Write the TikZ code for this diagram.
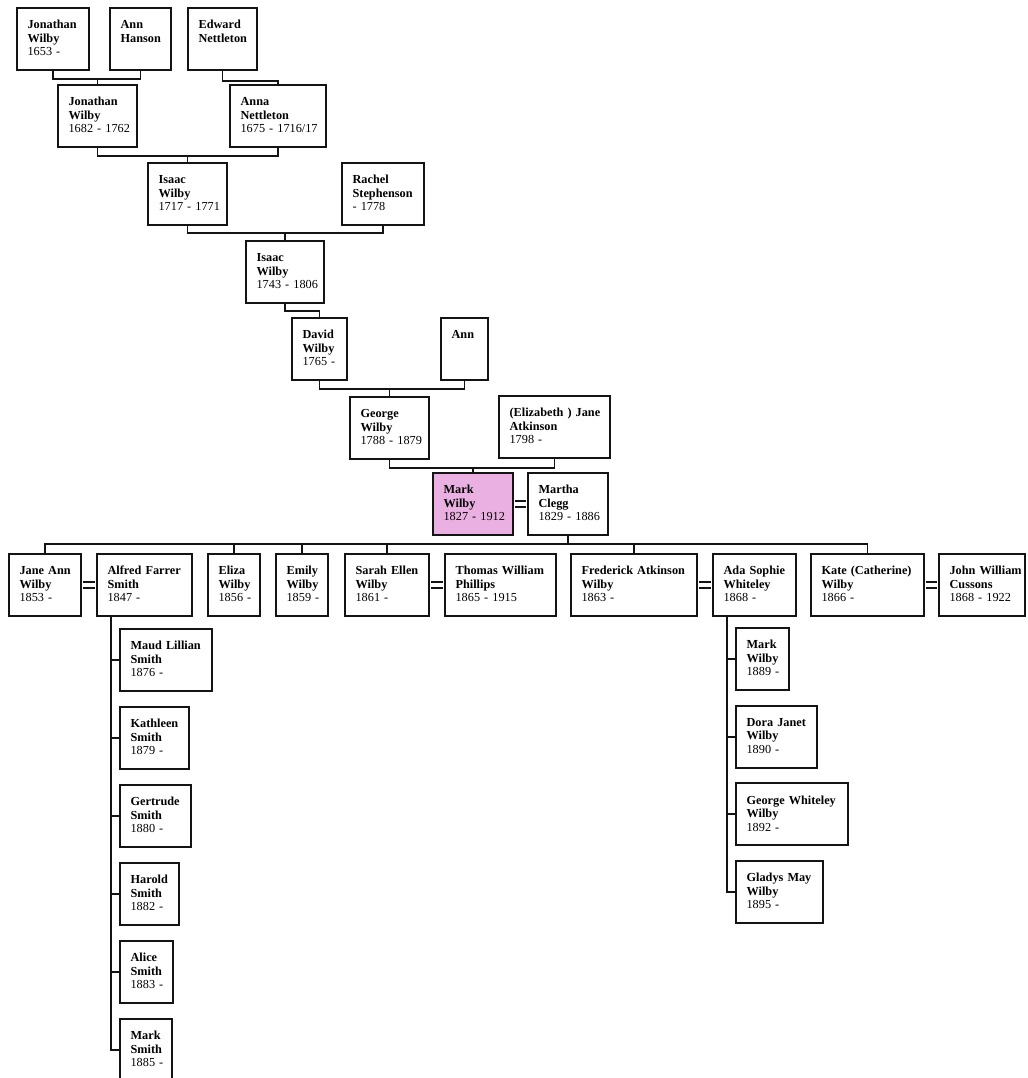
\documentclass[tikz,border=0pt]{standalone}
\usepackage{fontspec}
\setmainfont{Liberation Serif}
\usetikzlibrary{calc}
\definecolor{markpink}{HTML}{EBB0E2}
\definecolor{lineink}{HTML}{141414}
\newcommand\boxfont{\fontsize{9.2pt}{10.2pt}\selectfont}
\newcommand\who[3]{\textbf{\mbox{#1}}\\\textbf{\mbox{#2}}\\\mbox{#3}}
\tikzset{
  box/.style={draw=lineink, line width=1.4pt, anchor=north west, align=left, font=\boxfont,
    inner xsep=8pt, inner ysep=4.5pt, text height=11pt, text depth=26.5pt},
  person/.style={box, /utils/exec={\pgfmathsetlengthmacro\boxtw{#1*0.75pt-16pt}}, text width=\boxtw},
  link/.style={draw=lineink, line width=1.4pt},
  wed/.style={draw=lineink, double, line width=1.1pt, double distance=3.6pt, shorten <=0.7pt, shorten >=0.7pt},
}

\begin{document}
\begin{tikzpicture}[x=0.75pt,y=-0.75pt]
  \useasboundingbox[fill=white] (0,0) rectangle (1028,1078);
  % ancestors
  \node[person=72] (jw1) at (16,7) {\who{Jonathan}{Wilby}{1653 -}};
  \node[person=61] (annh) at (109,7) {\who{Ann}{Hanson}{}};
  \node[person=69] (edw) at (187,7) {\who{Edward}{Nettleton}{}};
  \node[person=79] (jw2) at (57,84) {\who{Jonathan}{Wilby}{1682 - 1762}};
  \node[person=96] (anna) at (229,84) {\who{Anna}{Nettleton}{1675 - 1716/17}};
  \node[person=79] (isaac1) at (147,162) {\who{Isaac}{Wilby}{1717 - 1771}};
  \node[person=82] (rachel) at (341,162) {\who{Rachel}{Stephenson}{- 1778}};
  \node[person=78] (isaac2) at (245,240) {\who{Isaac}{Wilby}{1743 - 1806}};
  \node[person=55] (david) at (291,317) {\who{David}{Wilby}{1765 -}};
  \node[person=47] (ann) at (440,317) {\textbf{Ann}};
  \node[person=79] (george) at (349,396) {\who{George}{Wilby}{1788 - 1879}};
  \node[person=111] (jane) at (498,395) {\who{(Elizabeth ) Jane}{Atkinson}{1798 -}};
  \node[person=80, fill=markpink] (mark) at (432,472) {\who{Mark}{Wilby}{1827 - 1912}};
  \node[person=80] (martha) at (527,472) {\who{Martha}{Clegg}{1829 - 1886}};
  % children of Mark and Martha
  \node[person=72] (janeann) at (8,553) {\who{Jane Ann}{Wilby}{1853 -}};
  \node[person=95] (alfred) at (96,553) {\who{Alfred Farrer}{Smith}{1847 -}};
  \node[person=52] (eliza) at (207,553) {\who{Eliza}{Wilby}{1856 -}};
  \node[person=52] (emily) at (275,553) {\who{Emily}{Wilby}{1859 -}};
  \node[person=84] (sarah) at (344,553) {\who{Sarah Ellen}{Wilby}{1861 -}};
  \node[person=111] (thomas) at (444,553) {\who{Thomas William}{Phillips}{1865 - 1915}};
  \node[person=126] (fred) at (570,553) {\who{Frederick Atkinson}{Wilby}{1863 -}};
  \node[person=83] (ada) at (712,553) {\who{Ada Sophie}{Whiteley}{1868 -}};
  \node[person=113] (kate) at (810,553) {\who{Kate (Catherine)}{Wilby}{1866 -}};
  \node[person=86] (john) at (938,553) {\who{John William}{Cussons}{1868 - 1922}};

  \draw[link] (jw1.south) -- ++(0,8) coordinate (g1) -| (annh.south);
  \draw[link] (jw2.north) -- (jw2.north |- g1);
  \draw[link] (edw.south) -- ++(0,10) -| (anna.north);
  \draw[link] (jw2.south) -- ++(0,8) coordinate (g2) -| (anna.south);
  \draw[link] (isaac1.north) -- (isaac1.north |- g2);
  \draw[link] (isaac1.south) -- ++(0,7) coordinate (g3) -| (rachel.south);
  \draw[link] (isaac2.north) -- (isaac2.north |- g3);
  \draw[link] (isaac2.south) -- ++(0,7) -| (david.north);
  \draw[link] (david.south) -- ++(0,8) coordinate (g5) -| (ann.south);
  \draw[link] (george.north) -- (george.north |- g5);
  \draw[link] (george.south) -- ++(0,8) coordinate (g6) -| (jane.south);
  \draw[link] (mark.north) -- (mark.north |- g6);
  \draw[wed] (mark.east) -- (martha.west);
  \draw[link] (martha.south) -- ++(0,8) coordinate (g7);
  \draw[link] (janeann.north) |- (g7) -| (kate.north);
  \foreach \c in {eliza,emily,sarah,fred}
    \draw[link] (\c.north) -- (\c.north |- g7);
  \draw[wed] (janeann.east) -- (alfred.west);
  \draw[wed] (sarah.east) -- (thomas.west);
  \draw[wed] (fred.east) -- (ada.west);
  \draw[wed] (kate.east) -- (john.west);

  % grandchildren
  \coordinate (a1) at ([xshift=11.25pt]alfred.south west);
  \foreach \i/\nm/\w/\first/\last/\yr in {0/maud/92/Maud Lillian/Smith/1876 -,1/kath/69/Kathleen/Smith/1879 -,2/gert/71/Gertrude/Smith/1880 -,3/harold/59/Harold/Smith/1882 -,4/alice/53/Alice/Smith/1883 -,5/marks/52/Mark/Smith/1885 -}
    { \node[person=\w] (\nm) at (119,{628+78*\i}) {\who{\first}{\last}{\yr}};
      \draw[link] (\nm.west) -- (\nm.west -| a1); }
  \draw[link] (a1) |- (marks.west);
  \coordinate (a2) at ([xshift=11.25pt]ada.south west);
  \foreach \i/\nm/\w/\first/\last/\yr in {0/markw/53/Mark/Wilby/1889 -,1/dora/81/Dora Janet/Wilby/1890 -,2/georgew/112/George Whiteley/Wilby/1892 -,3/gladys/87/Gladys May/Wilby/1895 -}
    { \node[person=\w] (\nm) at (735,{627+77.7*\i}) {\who{\first}{\last}{\yr}};
      \draw[link] (\nm.west) -- (\nm.west -| a2); }
  \draw[link] (a2) |- (gladys.west);
\end{tikzpicture}
\end{document}
